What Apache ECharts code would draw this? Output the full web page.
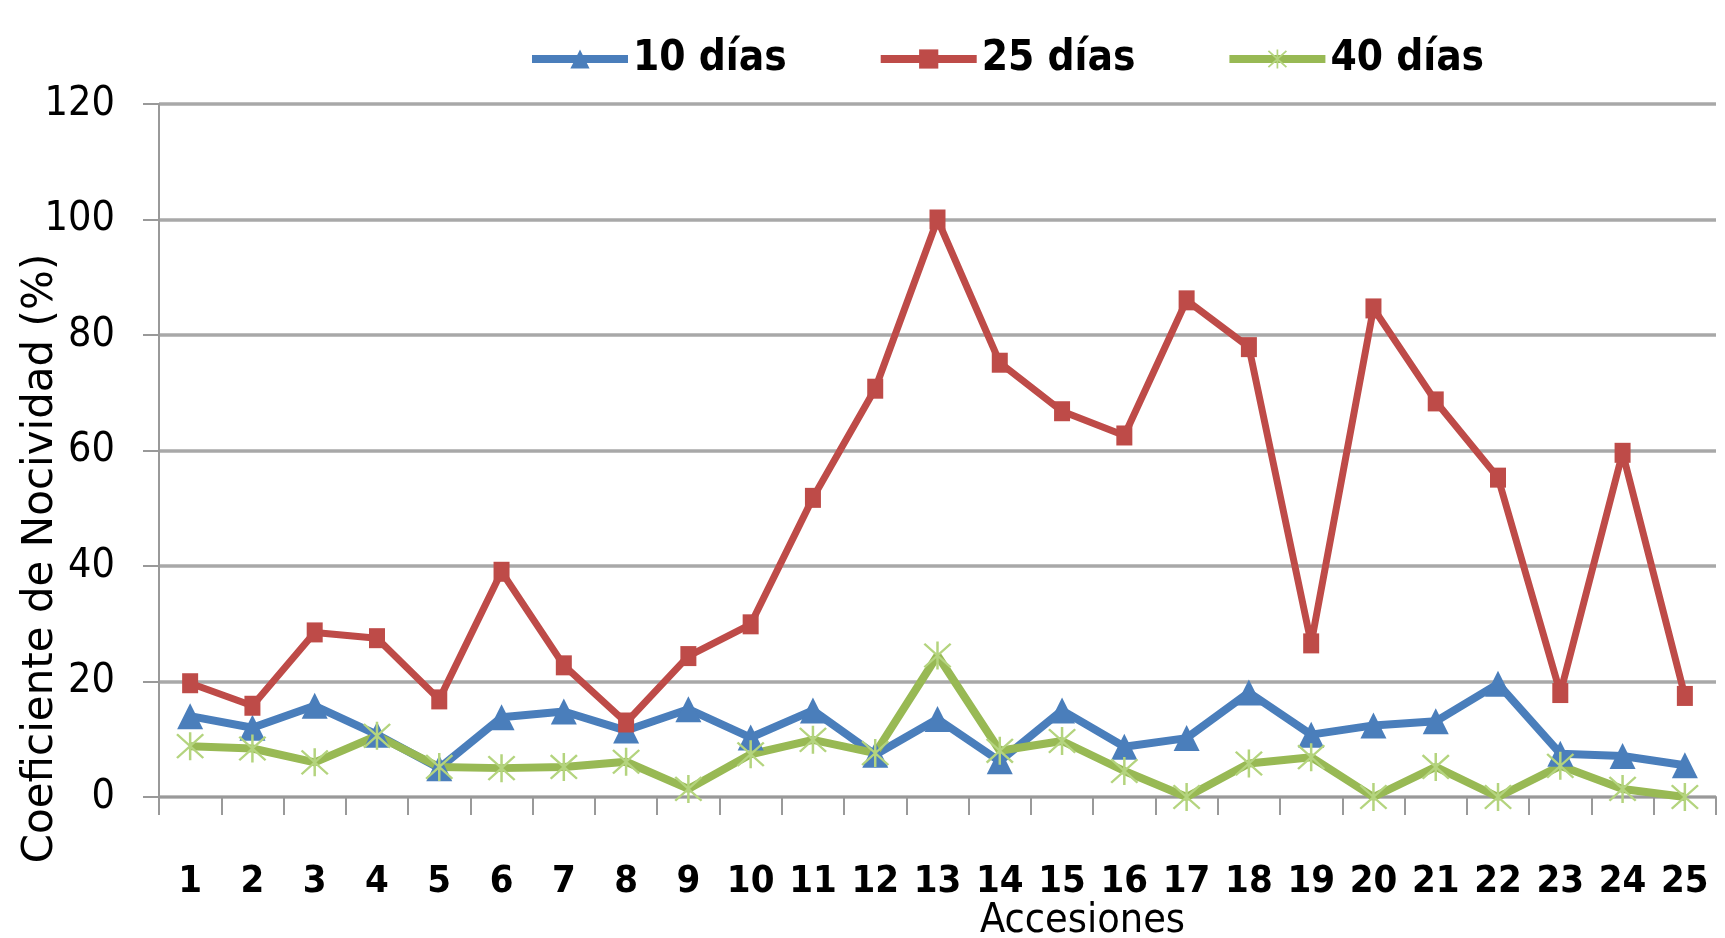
<!DOCTYPE html>
<html>
<head>
<meta charset="utf-8">
<script src="https://cdn.jsdelivr.net/npm/echarts@6/dist/echarts.min.js"></script>
<style>
html,body{margin:0;padding:0;background:#ffffff;}
#chart{width:1725px;height:938px;}
</style>
</head>
<body>
<div id="chart"></div>
<script>
const categories = ['1','2','3','4','5','6','7','8','9','10','11','12','13','14','15','16','17','18','19','20','21','22','23','24','25'];
const seriesNames = ['10 días', '25 días', '40 días'];
const dias10 = [14, 12, 15.8, 10.8, 5, 13.8, 14.8, 11.5, 15.2, 10.3, 15, 7.3, 13.5, 6.2, 15, 8.7, 10.2, 18.1, 10.8, 12.4, 13.1, 19.6, 7.5, 7.1, 5.5];
const dias25 = [19.7, 15.8, 28.5, 27.5, 16.9, 39, 22.8, 12.9, 24.4, 29.9, 51.8, 70.7, 100, 75.2, 66.8, 62.6, 86, 77.9, 26.6, 84.6, 68.5, 55.3, 18, 59.6, 17.5];
const dias40 = [8.8, 8.4, 6, 10.6, 5.2, 5, 5.2, 6.1, 1.4, 7.4, 9.9, 7.6, 24.5, 8, 9.7, 4.5, 0, 5.8, 6.9, 0, 5.2, 0, 5.4, 1.4, 0];
const yMin = 0, yMax = 120, yInterval = 20;
const xAxisTitle = 'Accesiones';
const yAxisTitle = 'Coeficiente de Nocividad (%)';

const narrow = "'DejaVu Sans Condensed', sans-serif";
const asterisk = 'path://M9.2,0h1.6v20h-1.6z M1,2.1L2.1,1L19,17.9L17.9,19z M17.9,1L19,2.1L2.1,19L1,17.9z';

const chart = echarts.init(document.getElementById('chart'), null, {renderer: 'canvas'});
chart.setOption({
  backgroundColor: '#ffffff',
  animation: false,
  legend: {
    left: 523,
    top: 33,
    itemWidth: 96,
    itemHeight: 24,
    itemGap: 90,
    lineStyle: {width: 8},
    textStyle: {fontFamily: narrow, fontSize: 42, fontWeight: 'bold', color: '#000'},
    data: seriesNames
  },
  grid: {left: 159, right: 9, top: 104, bottom: 141, containLabel: false, outerBoundsMode: 'none'},
  xAxis: {
    type: 'category',
    data: categories,
    boundaryGap: true,
    name: xAxisTitle,
    nameLocation: 'middle',
    nameGap: 104,
    nameMoveOverlap: false,
    nameTextStyle: {fontFamily: narrow, fontSize: 41, color: '#000', padding: [0, 0, 0, 290]},
    axisLine: {lineStyle: {color: '#999', width: 2}},
    axisTick: {show: true, alignWithLabel: false, length: 18, lineStyle: {color: '#999', width: 2}},
    axisLabel: {margin: 66, fontFamily: narrow, fontSize: 38, fontWeight: 'bold', color: '#000', interval: 0},
    splitLine: {show: false}
  },
  yAxis: {
    type: 'value',
    min: yMin, max: yMax, interval: yInterval,
    name: yAxisTitle,
    nameLocation: 'middle',
    nameGap: 97,
    nameRotate: 90,
    nameMoveOverlap: false,
    nameTextStyle: {fontFamily: 'DejaVu Sans', fontSize: 42, color: '#000', padding: [0, 216, 0, 0]},
    axisLine: {show: true, lineStyle: {color: '#999', width: 2}},
    axisTick: {show: true, length: 16, lineStyle: {color: '#999', width: 2}},
    axisLabel: {margin: 44, fontFamily: narrow, fontSize: 41, color: '#000'},
    splitLine: {show: true, lineStyle: {color: '#a8a8a8', width: 3.5}}
  },
  series: [
    {
      name: seriesNames[0], type: 'line', data: dias10,
      symbol: 'triangle', symbolSize: [26, 26],
      lineStyle: {color: '#4a7ebb', width: 8},
      itemStyle: {color: '#4a7ebb'}
    },
    {
      name: seriesNames[1], type: 'line', data: dias25,
      symbol: 'rect', symbolSize: [16, 20],
      lineStyle: {color: '#be4b48', width: 7},
      itemStyle: {color: '#be4b48'}
    },
    {
      name: seriesNames[2], type: 'line', data: dias40,
      symbol: asterisk, symbolSize: 28,
      lineStyle: {color: '#98b954', width: 8},
      itemStyle: {color: '#b4d47e'}
    }
  ]
});
</script>
</body>
</html>
